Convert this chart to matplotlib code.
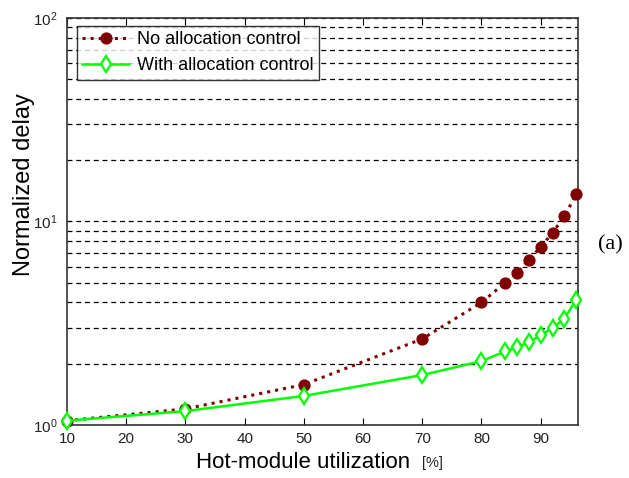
import matplotlib
matplotlib.use("Agg")
import matplotlib.pyplot as plt
from matplotlib.ticker import LogLocator, NullFormatter, FixedLocator

plt.rcParams['font.family'] = ['Liberation Sans', 'DejaVu Sans']

utilization = [10, 30, 50, 70, 80, 84, 86, 88, 90, 92, 94, 96]
no_alloc = [1.05, 1.2, 1.58, 2.65, 4.0, 5.0, 5.6, 6.5, 7.5, 8.8, 10.6, 13.6]
with_alloc = [1.05, 1.17, 1.39, 1.76, 2.06, 2.30, 2.41, 2.55, 2.76, 3.0, 3.33, 4.13]
x_ticks = [10, 20, 30, 40, 50, 60, 70, 80, 90]
series_labels = ["No allocation control", "With allocation control"]

W, H = 629, 478
fig = plt.figure(figsize=(W/100, H/100), dpi=100)
ax = fig.add_axes([67/W, 1-425/H, (578-67)/W, (425-18)/H])

ax.plot(utilization, no_alloc, color='#800000', linestyle=':', linewidth=2.2,
        marker='o', markersize=7.8, markerfacecolor='#800000', markeredgecolor='#800000',
        label=series_labels[0], clip_on=False, zorder=4)
ax.plot(utilization, with_alloc, color='#00ff00', linestyle='-', linewidth=1.8,
        marker='d', markersize=8, markerfacecolor='white', markeredgecolor='#00ff00',
        markeredgewidth=1.6, label=series_labels[1], clip_on=False, zorder=5)

ax.set_yscale('log')
ax.set_ylim(1, 100)
ax.set_xlim(10, 96.3)
ax.xaxis.set_major_locator(FixedLocator(x_ticks))
ax.yaxis.set_major_locator(LogLocator(base=10, numticks=5))
ax.yaxis.set_minor_locator(LogLocator(base=10, subs=range(2, 10), numticks=20))
ax.yaxis.set_minor_formatter(NullFormatter())
ax.grid(True, which='both', axis='y', color='black', linestyle=(0, (4, 3)), linewidth=0.9)
ax.tick_params(direction='in', top=True, right=False, which='both', labelsize=11, labelcolor='#222222')
ax.tick_params(axis='y', which='both', length=3, pad=7)
ax.tick_params(axis='x', length=5, pad=5)
for sp in ax.spines.values():
    sp.set_linewidth(1.2)
    sp.set_color('#333333')

fig.text(303/W, 1-462/H, "Hot-module utilization", fontsize=16, ha='center', va='center')
fig.text(432/W, 1-463/H, "[%]", fontsize=10.5, ha='center', va='center', color='#222222')
fig.text(24/W, 1-185/H, "Normalized delay", fontsize=17, ha='center', va='center', rotation=90)

leg = ax.legend(loc='upper left', bbox_to_anchor=(10/511, 1-8/407), fontsize=13, frameon=True,
                fancybox=False, edgecolor='black', handlelength=2.6, borderpad=0.3,
                labelspacing=0.5, handletextpad=0.4, borderaxespad=0.0)
leg.get_frame().set_linewidth(1.0)

fig.text(598/W, 1-245/H, "(a)", fontsize=16, family='Liberation Serif', va='center')

fig.savefig("out.png", dpi=100)
